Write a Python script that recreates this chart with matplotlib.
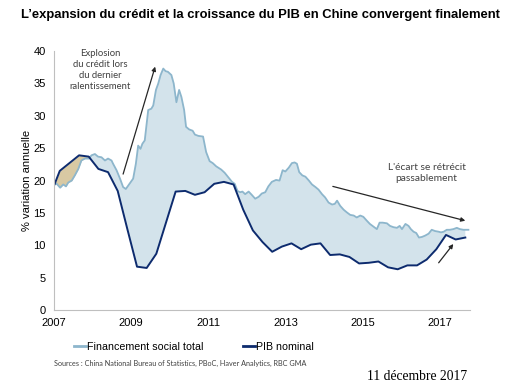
import numpy as np
import matplotlib
matplotlib.use("Agg")
import matplotlib.pyplot as plt

# Financement social total (mensuel, % a/a)
fst_years = [
    2007.00, 2007.07, 2007.16, 2007.24, 2007.31, 2007.37, 2007.46, 2007.54, 2007.63, 2007.71,
    2007.80, 2007.91, 2007.97, 2008.06, 2008.14, 2008.23, 2008.32, 2008.40, 2008.49, 2008.53,
    2008.62, 2008.71, 2008.79, 2008.86, 2008.92, 2008.98, 2009.05, 2009.12, 2009.18, 2009.24,
    2009.29, 2009.35, 2009.40, 2009.44, 2009.52, 2009.57, 2009.64, 2009.70, 2009.76, 2009.83,
    2009.89, 2009.95, 2010.04, 2010.10, 2010.17, 2010.24, 2010.30, 2010.37, 2010.42, 2010.50,
    2010.59, 2010.65, 2010.74, 2010.86, 2010.94, 2011.03, 2011.11, 2011.20, 2011.33, 2011.42,
    2011.50, 2011.61, 2011.68, 2011.75, 2011.82, 2011.88, 2011.95, 2012.04, 2012.12, 2012.21,
    2012.30, 2012.38, 2012.47, 2012.55, 2012.64, 2012.75, 2012.84, 2012.92, 2012.99, 2013.08,
    2013.16, 2013.23, 2013.29, 2013.35, 2013.43, 2013.51, 2013.60, 2013.68, 2013.77, 2013.85,
    2013.94, 2014.02, 2014.11, 2014.20, 2014.27, 2014.33, 2014.41, 2014.50, 2014.58, 2014.67,
    2014.76, 2014.84, 2014.93, 2015.01, 2015.10, 2015.18, 2015.27, 2015.36, 2015.43, 2015.51,
    2015.62, 2015.70, 2015.79, 2015.88, 2015.95, 2016.01, 2016.10, 2016.18, 2016.24, 2016.31,
    2016.38, 2016.45, 2016.53, 2016.61, 2016.70, 2016.78, 2016.87, 2016.96, 2017.02, 2017.09,
    2017.17, 2017.25, 2017.34, 2017.43, 2017.51, 2017.60, 2017.73,
]
fst_values = [
    19.4, 19.5, 18.9, 19.4, 19.1, 19.7, 20.0, 20.8, 21.8, 23.1,
    23.4, 23.4, 23.9, 24.1, 23.7, 23.6, 23.1, 23.4, 23.1, 22.6,
    21.6, 20.3, 19.0, 18.7, 19.2, 19.7, 20.3, 22.6, 25.4, 24.9,
    25.7, 26.2, 28.8, 30.9, 31.1, 31.6, 34.0, 35.0, 36.3, 37.3,
    36.9, 36.8, 36.3, 35.0, 32.1, 34.0, 32.9, 30.9, 28.3, 27.9,
    27.7, 27.1, 26.9, 26.8, 24.4, 23.0, 22.7, 22.2, 21.7, 21.2,
    20.6, 19.8, 19.5, 18.4, 18.2, 18.3, 17.9, 18.3, 17.8, 17.2,
    17.5, 18.0, 18.2, 19.1, 19.8, 20.1, 20.0, 21.6, 21.4, 22.0,
    22.7, 22.8, 22.6, 21.3, 20.8, 20.6, 20.0, 19.4, 19.0, 18.6,
    17.9, 17.4, 16.6, 16.3, 16.4, 16.9, 16.1, 15.5, 15.1, 14.7,
    14.6, 14.3, 14.6, 14.4, 13.8, 13.3, 12.9, 12.5, 13.5, 13.5,
    13.4, 13.0, 12.8, 12.7, 13.0, 12.5, 13.3, 13.0, 12.5, 12.1,
    11.9, 11.2, 11.3, 11.5, 11.8, 12.4, 12.2, 12.1, 12.0, 12.1,
    12.4, 12.4, 12.5, 12.7, 12.5, 12.4, 12.4,
]

# PIB nominal (trimestriel, % a/a)
pib_years = [
    2007.00, 2007.15, 2007.40, 2007.65, 2007.90, 2008.15, 2008.40, 2008.65, 2008.90, 2009.15,
    2009.40, 2009.65, 2009.90, 2010.15, 2010.40, 2010.65, 2010.90, 2011.15, 2011.40, 2011.65,
    2011.90, 2012.15, 2012.40, 2012.65, 2012.90, 2013.15, 2013.40, 2013.65, 2013.90, 2014.15,
    2014.40, 2014.65, 2014.90, 2015.15, 2015.40, 2015.65, 2015.90, 2016.15, 2016.40, 2016.65,
    2016.90, 2017.15, 2017.40, 2017.65,
]
pib_values = [
    19.2, 21.5, 22.7, 23.9, 23.7, 21.8, 21.3, 18.4, 12.5, 6.7,
    6.5, 8.7, 13.5, 18.3, 18.4, 17.8, 18.2, 19.5, 19.8, 19.4,
    15.5, 12.3, 10.5, 9.0, 9.8, 10.3, 9.4, 10.1, 10.3, 8.5,
    8.6, 8.2, 7.2, 7.3, 7.5, 6.6, 6.3, 6.9, 6.9, 7.8,
    9.4, 11.6, 10.9, 11.2,
]

year_ticks = [2007, 2009, 2011, 2013, 2015, 2017]

c_fst = "#8db6cc"
c_pib = "#0d2b6e"
c_fill = "#d3e3eb"
c_tan = "#d8c9a3"

fig = plt.figure(figsize=(5.21, 3.9), dpi=100)
ax = fig.add_axes([0.1036, 0.205, 0.7984, 0.664])

# remplissage entre les deux courbes sur une grille commune
grid = np.union1d(fst_years, pib_years)
grid = grid[grid <= max(pib_years)]
f_g = np.interp(grid, fst_years, fst_values)
p_g = np.interp(grid, pib_years, pib_values)
ax.fill_between(grid, f_g, p_g, where=f_g >= p_g, interpolate=True,
                color=c_fill, linewidth=0)
ax.fill_between(grid, f_g, p_g, where=f_g < p_g, interpolate=True,
                color=c_tan, linewidth=0)

ax.plot(fst_years, fst_values, color=c_fst, lw=1.3, label="Financement social total")
ax.plot(pib_years, pib_values, color=c_pib, lw=1.4, label="PIB nominal")

ax.set_xlim(2007, 2017.77)
ax.set_ylim(0, 40)
ax.set_xticks(year_ticks)
ax.set_xticklabels([str(y) for y in year_ticks])
ax.set_yticks(range(0, 41, 5))
ax.tick_params(length=0, labelsize=8, pad=6)
for lab in ax.get_xticklabels() + ax.get_yticklabels():
    lab.set_family("Liberation Sans")
for s in ["top", "right"]:
    ax.spines[s].set_visible(False)
for s in ["left", "bottom"]:
    ax.spines[s].set_color("#bfbfbf")
    ax.spines[s].set_linewidth(0.8)
ax.set_ylabel("% variation annuelle", fontsize=8, family="Liberation Sans", labelpad=1)

note_font = dict(family="Lato", fontsize=6.8, color="#404040")
ax.text(2008.2, 40.3, "Explosion\ndu crédit lors\ndu dernier\nralentissement",
        ha="center", va="top", linespacing=1.3, **note_font)
ax.annotate("", xy=(2009.62, 37.6), xytext=(2008.79, 21.0),
            arrowprops=dict(arrowstyle="-|>", color="#262626", lw=0.9,
                            mutation_scale=6, shrinkA=0, shrinkB=0))
ax.text(2016.65, 21.2, "L'écart se rétrécit\npassablement",
        ha="center", va="center", linespacing=1.35,
        **dict(note_font, fontsize=7.4))
ax.annotate("", xy=(2017.65, 13.8), xytext=(2014.22, 19.1),
            arrowprops=dict(arrowstyle="-|>", color="#262626", lw=0.9,
                            mutation_scale=6, shrinkA=0, shrinkB=0))
ax.annotate("", xy=(2017.34, 10.2), xytext=(2016.96, 7.3),
            arrowprops=dict(arrowstyle="-|>", color="#262626", lw=0.9,
                            mutation_scale=6, shrinkA=0, shrinkB=0))

fig.text(0.5, 0.962, "L\u2019expansion du crédit et la croissance du PIB en Chine convergent finalement",
         ha="center", va="center", fontsize=9.4, fontweight="bold", family="Liberation Sans")

leg = fig.legend(loc="center left", bbox_to_anchor=(0.124, 0.111), ncol=2,
                 frameon=False, handlelength=1.1, handletextpad=0.1,
                 columnspacing=3.7, prop={"family": "Liberation Sans", "size": 7.7})
for line in leg.get_lines():
    line.set_linewidth(2)

fig.text(0.104, 0.069,
         "Sources : China National Bureau of Statistics, PBoC, Haver Analytics, RBC GMA",
         ha="left", va="center", fontsize=5.2, family="Lato", color="#404040")
fig.text(0.897, 0.034, "11 décembre 2017", ha="right", va="center",
         fontsize=9.8, family="Liberation Serif")

fig.savefig("out.png", dpi=100)
